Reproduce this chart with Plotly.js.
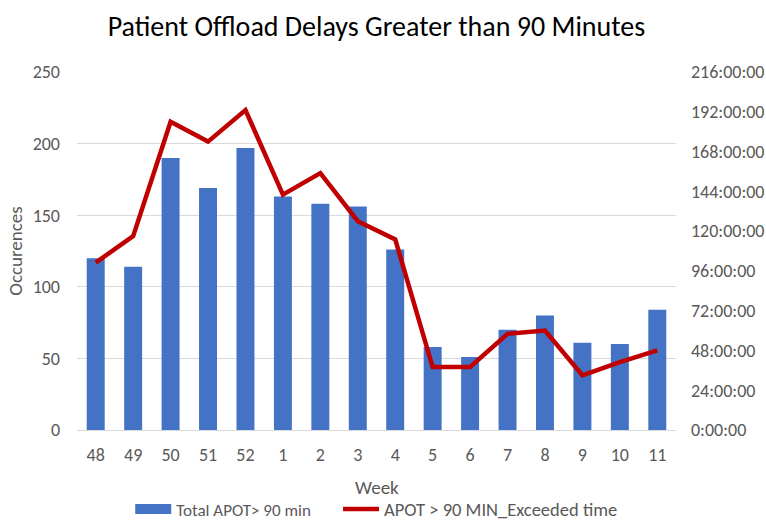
<!DOCTYPE html>
<html>
<head>
<meta charset="utf-8">
<script src="https://cdn.plot.ly/plotly-3.0.1.min.js"></script>
<style>html,body{margin:0;padding:0;background:#fff;}#chart{width:766px;height:523px;}</style>
</head>
<body>
<div id="chart"></div>
<script>
const weeks = ["48","49","50","51","52","1","2","3","4","5","6","7","8","9","10","11"];
const totalApot = [120,114,190,169,197,163,158,156,126,58,51,70,80,61,60,84];
const exceededHours = [101,117,186,174,193,142,155,126,115,38,38,58,60,33,41,48];
const rightTickVals = [0,24,48,72,96,120,144,168,192,216];
const rightTickText = ["0:00:00","24:00:00","48:00:00","72:00:00","96:00:00","120:00:00","144:00:00","168:00:00","192:00:00","216:00:00"];
const seriesNames = ["Total APOT> 90 min","APOT > 90 MIN_Exceeded time"];
const xTitle = "Week";

const font = "Carlito, Calibri, 'Open Sans', sans-serif";
const grey = "#595959";
const blue = "#4472C4", red = "#C00000";

const traces = [
  {type:"bar", x:weeks, y:totalApot, name:seriesNames[0], showlegend:false,
   marker:{color:blue}, yaxis:"y"},
  {type:"scatter", mode:"lines", x:[null], y:[null], name:seriesNames[0], legend:"legend",
   line:{color:blue, width:10}, yaxis:"y", hoverinfo:"skip"},
  {type:"scatter", mode:"lines", x:weeks, y:exceededHours, name:seriesNames[1], legend:"legend2",
   line:{color:red, width:4.5}, yaxis:"y2"}
];

const legendBase = {orientation:"h", xanchor:"left", xref:"container", yref:"container", y:0.026, yanchor:"middle",
                    itemwidth:36, bgcolor:"rgba(0,0,0,0)"};

const layout = {
  width:766, height:523,
  margin:{l:77, r:90, t:72, b:93, autoexpand:false},
  paper_bgcolor:"#fff", plot_bgcolor:"#fff",
  font:{family:font, color:grey, size:18},
  title:{text:"Patient Offload Delays Greater than 90 Minutes", font:{family:font, size:28, color:"#000"},
         x:0.5, xanchor:"center", xref:"paper", y:0.95, yanchor:"middle"},
  bargap:0.52,
  showlegend:true,
  legend:Object.assign({}, legendBase, {x:0.17, font:{size:17, color:grey}}),
  legend2:Object.assign({}, legendBase, {x:0.4413, font:{size:18.5, color:grey}}),
  annotations:[{text:xTitle, xref:"paper", yref:"paper", x:0.5, y:-0.162, xanchor:"center", yanchor:"middle",
                showarrow:false, font:{family:font, size:19, color:grey}}],
  xaxis:{type:"category", showgrid:false, showline:true, linecolor:"#d9d9d9", ticks:"", ticklabelstandoff:8,
         tickfont:{size:18, color:grey}, automargin:false},
  yaxis:{range:[0,250], dtick:50, showgrid:true, gridcolor:"#d9d9d9", gridwidth:1, zeroline:false, showline:false,
         ticks:"", ticklabelstandoff:16, tickfont:{size:18, color:grey}, automargin:false,
         title:{text:"Occurences", font:{size:19, color:grey}, standoff:4}},
  yaxis2:{overlaying:"y", side:"right", range:[0,216], tickvals:rightTickVals, ticktext:rightTickText,
          showgrid:false, zeroline:false, showline:false, ticks:"", ticklabelstandoff:14, automargin:false,
          tickfont:{size:18, color:grey}}
};

Plotly.newPlot("chart", traces, layout, {displayModeBar:false, staticPlot:true});
</script>
</body>
</html>
